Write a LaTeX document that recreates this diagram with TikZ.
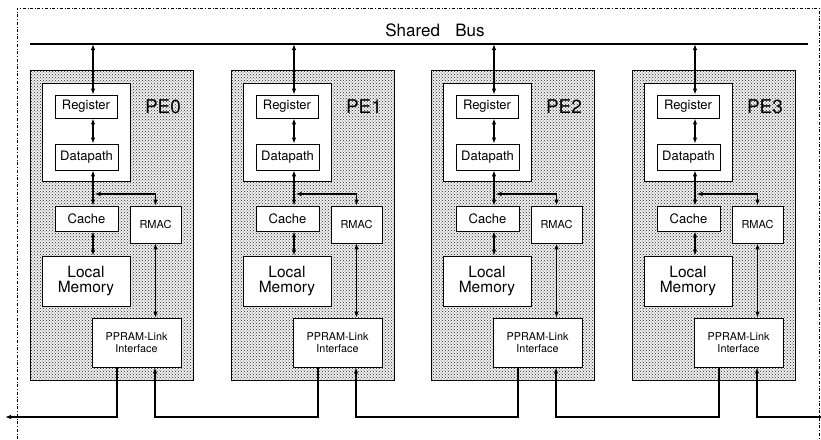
\documentclass[tikz,border=0pt]{standalone}
\usepackage{fontspec}
\setmainfont{TeX Gyre Heros}
\usetikzlibrary{arrows.meta,patterns}

\tikzset{
	>={Latex[length=6pt,width=4.5pt]},
	pebox/.style={draw, line width=0.9pt, fill=black!6, postaction={pattern=crosshatch dots, pattern color=black!85}},
	unit/.style={draw, fill=white, line width=0.8pt, inner sep=0pt, align=center},
	link/.style={line width=1.6pt},
	txt/.style={font=\fontsize{#1}{#1}\selectfont},
}

\begin{document}
\begin{tikzpicture}[x=1pt,y=-1pt]
		\useasboundingbox (0,0) rectangle (821,439);

		% outer frame and shared bus
		\draw [dash dot, line width=0.7pt] (17,439) -- (17,8) -- (819,8) -- (819,439);
		\coordinate (BusLeft) at (30,44);
		\coordinate (BusRight) at (808,44);
		\draw [line width=1.5pt] (BusLeft) -- (BusRight);
		\node [txt=17] (BusLabel) at (435,30) {Shared\hspace{0.9em}Bus};

		% the four processing elements
		\foreach \i in {0,...,3}
		{
			\pgfmathsetmacro{\X}{round(30+200.67*\i)}
			\draw [pebox] (\X,70) rectangle (\X+163,380);
			\node [unit, minimum width=88, minimum height=98] (grp\i) at (\X+56,132) {};
			\node [unit, minimum width=62, minimum height=23, txt=13] (reg\i) at (\X+56,106.5) {Register};
			\node [unit, minimum width=63, minimum height=26, txt=13] (dp\i) at (\X+56.5,157) {Datapath};
			\node [unit, minimum width=63, minimum height=25, txt=13] (cache\i) at (\X+56.5,218.5) {Cache};
			\node [unit, minimum width=51, minimum height=37, txt=11] (rmac\i) at (\X+125.5,224.5) {RMAC};
			\node [unit, minimum width=88, minimum height=50, txt=15.5] (lm\i) at (\X+56,281) {Local\\[-1pt]Memory};
			\node [unit, minimum width=89, minimum height=49, txt=10.8] (pli\i) at (\X+106.5,342.5) {PPRAM-Link\\[1pt]Interface};
			\node [txt=19] (pe\i) at (\X+133,107) {PE\i};

			\coordinate (bus\i) at (\X+63,44);
			\coordinate (jn\i) at (\X+63,194);
			\coordinate (out\i) at (\X+87,417);
			\coordinate (in\i) at (\X+125,417);

			\draw [link, <->] (bus\i) -- (reg\i.north -| bus\i);
			\draw [link, <->] (reg\i.south -| bus\i) -- (dp\i.north -| bus\i);
			\draw [link, <->] (dp\i.south -| bus\i) -- (cache\i.north -| bus\i);
			\draw [line width=1.2pt, <->, shorten <=1.5pt] (jn\i) -| (rmac\i.north);
			\draw [link, <->] (cache\i.south -| bus\i) -- (lm\i.north -| bus\i);
			\draw [link, <->] (rmac\i.south) -- (pli\i.north -| rmac\i.south);
		}

		% PPRAM-Link ring
		\coordinate (RingLeft) at (5,417);
		\coordinate (RingRight) at (821,417);
		\draw [link, ->] (pli0.south -| out0) |- (RingLeft);
		\foreach \i [evaluate=\i as \j using int(\i-1)] in {1,2,3}
			\draw [link, ->] (pli\i.south -| out\i) |- (in\j) -- (pli\j.south -| in\j);
		\draw [link, ->] (RingRight) -| (pli3.south -| in3);
	\end{tikzpicture}
\end{document}
